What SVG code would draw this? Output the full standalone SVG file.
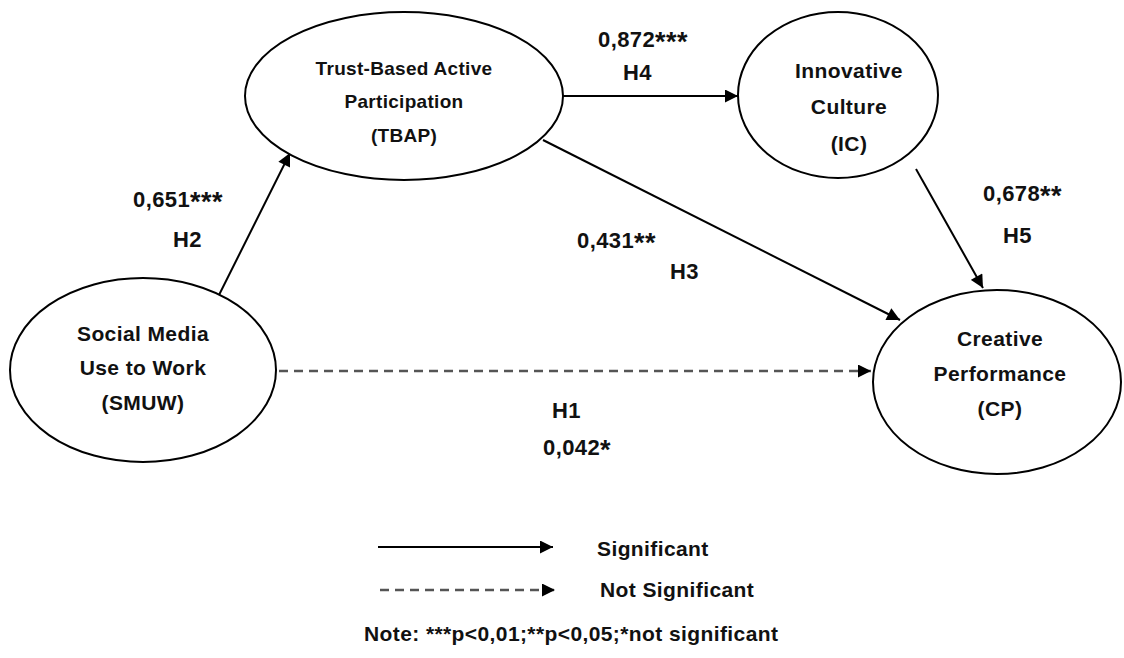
<svg xmlns="http://www.w3.org/2000/svg" width="1124" height="658" viewBox="0 0 1124 658">
<style>
.node{fill:#fff;stroke:#000;stroke-width:2}
.t{font-family:"Liberation Sans",Arial,sans-serif;font-weight:bold;font-size:21px;letter-spacing:0.4px;fill:#111;text-anchor:middle}
.s{font-size:19px;letter-spacing:0.3px}
.l{font-family:"Liberation Sans",Arial,sans-serif;font-weight:bold;font-size:22px;letter-spacing:0.4px;fill:#111}
.n{font-size:21px}
.a{font-size:27px}
.sol{stroke:#000;stroke-width:2;fill:none}
.dash{stroke:#555;stroke-width:2.5;fill:none;stroke-dasharray:9,6}
</style>
<defs>
<marker id="ah" viewBox="0 0 10 10" refX="10" refY="5" markerWidth="14" markerHeight="13" markerUnits="userSpaceOnUse" orient="auto">
<path d="M0,0 L10,5 L0,10 z" fill="#000"/>
</marker>
</defs>
<rect width="1124" height="658" fill="#fff"/>
<g id="connectors">
<line class="sol" x1="219" y1="295" x2="290" y2="153" marker-end="url(#ah)"/>
<line class="sol" x1="563" y1="96" x2="738" y2="96" marker-end="url(#ah)"/>
<line class="sol" x1="543" y1="140" x2="900" y2="320" marker-end="url(#ah)"/>
<line class="sol" x1="916" y1="169" x2="983" y2="288" marker-end="url(#ah)"/>
<line class="dash" x1="279" y1="371" x2="871" y2="371" marker-end="url(#ah)"/>
</g>
<g id="TBAP">
<ellipse class="node" cx="404" cy="96" rx="159" ry="84"/>
<text class="t s" x="404" y="75">Trust-Based Active</text>
<text class="t s" x="404" y="108">Participation</text>
<text class="t s" x="404" y="142">(TBAP)</text>
</g>
<g id="IC">
<ellipse class="node" cx="838" cy="95" rx="100" ry="83"/>
<text class="t" x="849" y="78">Innovative</text>
<text class="t" x="849" y="114">Culture</text>
<text class="t" x="849" y="151">(IC)</text>
</g>
<g id="SMUW">
<ellipse class="node" cx="143" cy="370" rx="133" ry="92"/>
<text class="t" x="143" y="341">Social Media</text>
<text class="t" x="143" y="375">Use to Work</text>
<text class="t" x="143" y="410">(SMUW)</text>
</g>
<g id="CP">
<ellipse class="node" cx="997" cy="382" rx="124" ry="92"/>
<text class="t" x="1000" y="346">Creative</text>
<text class="t" x="1000" y="381">Performance</text>
<text class="t" x="1000" y="416">(CP)</text>
</g>
<g id="labels">
<text class="l" x="133" y="207">0,651<tspan class="a" dy="4">***</tspan></text>
<text class="l" x="173" y="247">H2</text>
<text class="l" x="598" y="47">0,872<tspan class="a" dy="4">***</tspan></text>
<text class="l" x="623" y="80">H4</text>
<text class="l" x="983" y="201">0,678<tspan class="a" dy="4">**</tspan></text>
<text class="l" x="1003" y="243">H5</text>
<text class="l" x="577" y="248">0,431<tspan class="a" dy="4">**</tspan></text>
<text class="l" x="670" y="279">H3</text>
<text class="l" x="552" y="418">H1</text>
<text class="l" x="543" y="455">0,042<tspan class="a" dy="4">*</tspan></text>
</g>
<g id="legend">
<line class="sol" x1="378" y1="547" x2="553" y2="547" marker-end="url(#ah)"/>
<line class="dash" x1="380" y1="590" x2="555" y2="590" marker-end="url(#ah)"/>
<text class="l n" x="597" y="556">Significant</text>
<text class="l n" x="600" y="597">Not Significant</text>
<text class="l n" x="364" y="641">Note: ***p&lt;0,01;**p&lt;0,05;*not significant</text>
</g>
</svg>
